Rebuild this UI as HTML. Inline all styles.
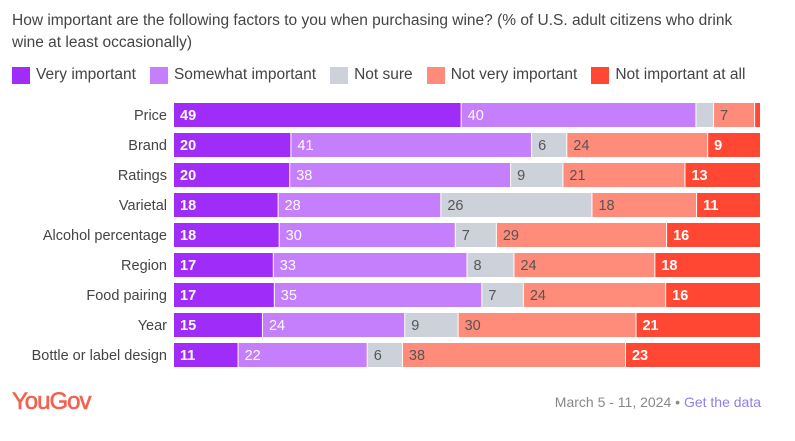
<!DOCTYPE html>
<html><head><meta charset="utf-8">
<style>
body{margin:0;width:795px;height:441px;background:#fff;font-family:"Liberation Sans",sans-serif;position:relative;overflow:hidden}
.t{position:absolute;left:12px;top:10px;width:735px;font-size:15.5px;line-height:22px;color:#444}
.lg{position:absolute;top:66px;left:12px;display:flex;font-size:15.5px;color:#444;align-items:center}
.lg span.s{display:inline-block;width:18px;height:17px;margin-right:6px}
.lg div{display:flex;align-items:center;margin-right:14px}
</style></head><body>
<div class="t">How important are the following factors to you when purchasing wine? (% of U.S. adult citizens who drink wine at least occasionally)</div>
<div class="lg">
<div><span class="s" style="background:#a02cfa"></span>Very important</div>
<div><span class="s" style="background:#c57efc"></span>Somewhat important</div>
<div><span class="s" style="background:#cdd1da"></span>Not sure</div>
<div><span class="s" style="background:#ff8c7a"></span>Not very important</div>
<div><span class="s" style="background:#ff4733"></span>Not important at all</div>
</div>
<svg id="c" width="795" height="441" style="position:absolute;left:0;top:0"></svg>
<div style="position:absolute;left:12px;top:388px;font-size:24px;color:#f2624f;letter-spacing:-1px;-webkit-text-stroke:0.6px #f2624f">YouGov</div>
<div style="position:absolute;right:34px;top:394px;font-size:14px;color:#888">March 5 - 11, 2024 • <span style="color:#8f7fe8">Get the data</span></div>
<script>
const categories=["Price","Brand","Ratings","Varietal","Alcohol percentage","Region","Food pairing","Year","Bottle or label design"];
const veryImportant=[49,20,20,18,18,17,17,15,11];
const somewhatImportant=[40,41,38,28,30,33,35,24,22];
const notSure=[3,6,9,26,7,8,7,9,6];
const notVeryImportant=[7,24,21,18,29,24,24,30,38];
const notImportantAtAll=[1,9,13,11,16,18,16,21,23];
const series=[veryImportant,somewhatImportant,notSure,notVeryImportant,notImportantAtAll];
const seriesNames=["very-important","somewhat-important","not-sure","not-very-important","not-important-at-all"];
const colors=["#a02cfa","#c57efc","#cdd1da","#ff8c7a","#ff4733"];
const textColors=["#fff","#fff","#555","#555","#fff"];
const weights=["bold","normal","normal","normal","bold"];
const svg=document.getElementById('c');const NS="http://www.w3.org/2000/svg";
const x0=174,x1=761,top0=103,step=30,bh=24;
categories.forEach((cat,i)=>{
  const y=top0+i*step;
  const tot=series.reduce((a,s)=>a+s[i],0);
  const t=document.createElementNS(NS,'text');
  
  
  t.setAttribute('x',167);t.setAttribute('y',y+bh/2+5);t.setAttribute('text-anchor','end');
  t.setAttribute('font-size','14.5');t.setAttribute('fill','#444');t.textContent=cat;svg.appendChild(t);
  let acc=0;
  series.forEach((s,k)=>{
    const xa=x0+(x1-x0)*acc/tot;acc+=s[i];const xb=x0+(x1-x0)*acc/tot;
    const r=document.createElementNS(NS,'rect');
    
    
    r.setAttribute('x',xa);r.setAttribute('y',y);r.setAttribute('width',Math.max(0,xb-xa-1));r.setAttribute('height',bh);r.setAttribute('fill',colors[k]);svg.appendChild(r);
    if(xb-xa>20){
      const v=document.createElementNS(NS,'text');
      
      
      v.setAttribute('x',xa+6);v.setAttribute('y',y+bh/2+5);v.setAttribute('font-size','14.5');
      v.setAttribute('font-weight',weights[k]);v.setAttribute('fill',textColors[k]);v.textContent=s[i];svg.appendChild(v);
    }
  });
});
</script>
</body></html>
